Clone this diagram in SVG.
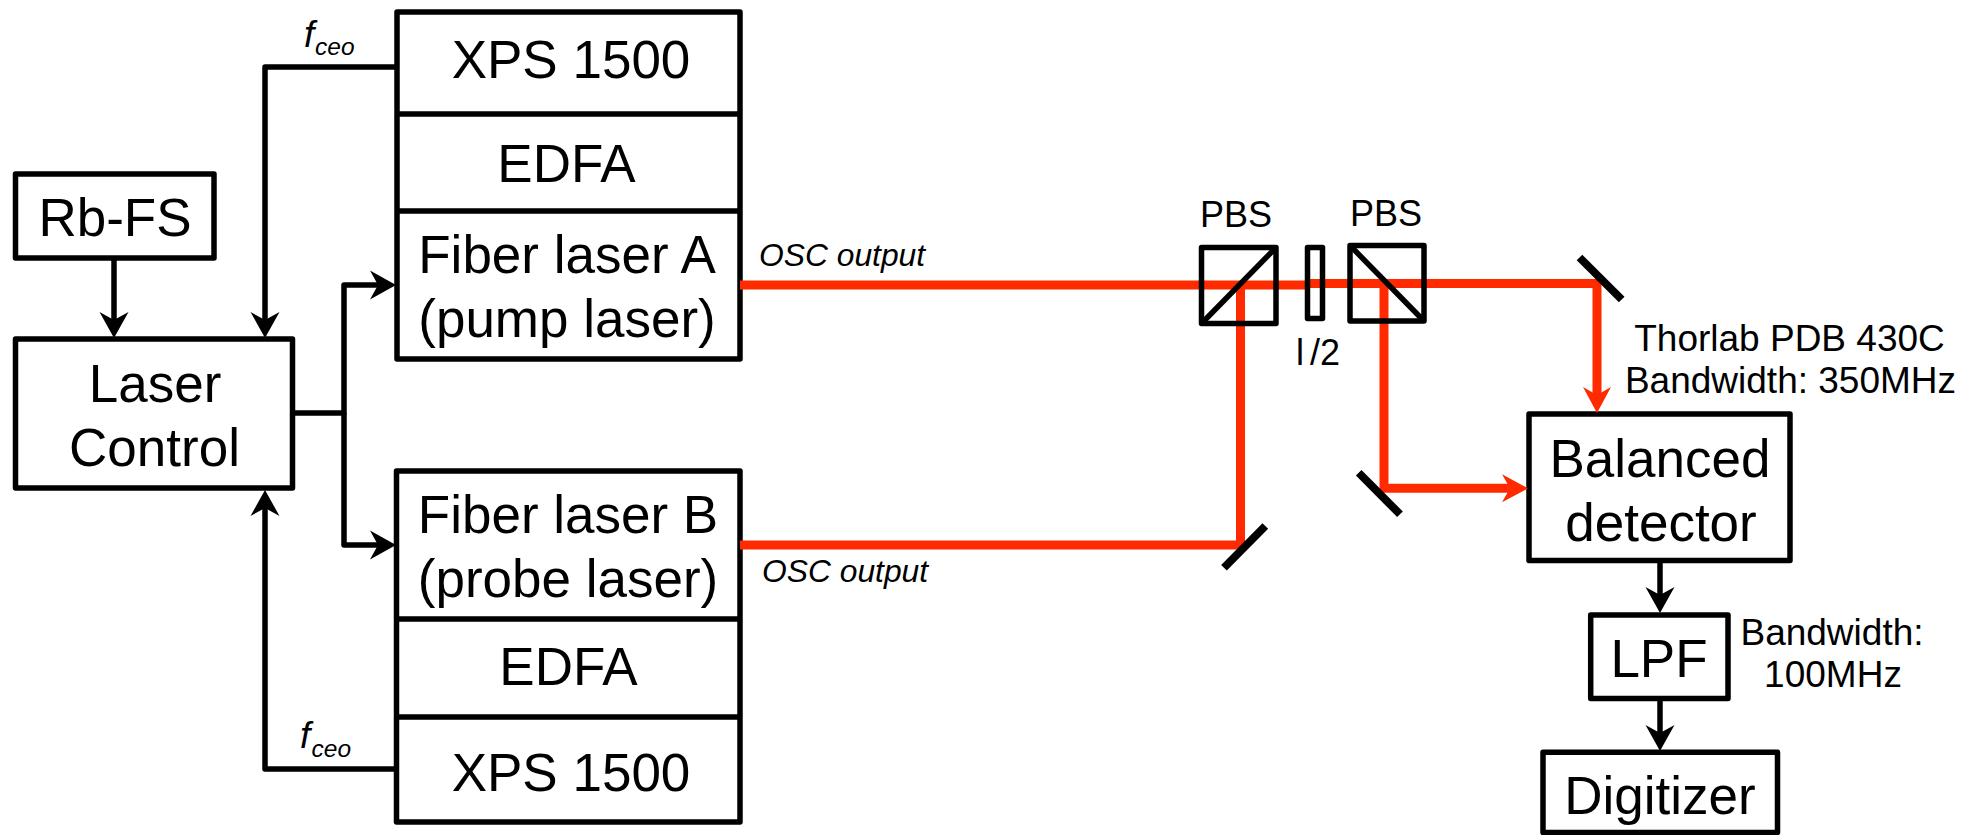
<svg xmlns="http://www.w3.org/2000/svg" width="1984" height="835" viewBox="0 0 1984 835">
<style>
text{font-family:"Liberation Sans",Arial,sans-serif;fill:#000}
.m{text-anchor:middle}
.t53{font-size:53px}
.t36{font-size:36px}
.t37{font-size:37px}
.osc{font-size:31.8px;font-style:italic}
.f{font-size:37px;font-style:italic}
.sub{font-size:24.5px;font-style:italic}
.box{fill:none;stroke:#000;stroke-width:5.500px;stroke-linejoin:round}
.thin{fill:none;stroke:#000;stroke-width:5.500px}
.k{fill:none;stroke:#000;stroke-width:5.500px;stroke-linejoin:round}
.r{fill:none;stroke:#ff2a00;stroke-width:9px;stroke-linejoin:miter}
.mir{stroke:#000;stroke-width:8px;fill:none}
</style>
<defs>
<marker id="ak" markerUnits="userSpaceOnUse" markerWidth="60" markerHeight="60" refX="30" refY="30" orient="auto" viewBox="0 0 60 60"><path d="M43 30L17 15.500L25 30L17 44.500Z" fill="#000"/></marker>
<marker id="ar" markerUnits="userSpaceOnUse" markerWidth="60" markerHeight="60" refX="30" refY="30" orient="auto" viewBox="0 0 60 60"><path d="M43 30L17 16L25 30L17 44Z" fill="#ff2a00"/></marker>
</defs>
<rect width="1984" height="835" fill="#fff"/>
<g id="rb-fs"><rect class="box" x="15.500" y="174" width="198.500" height="84"/><text class="t53 m" x="115" y="236">Rb-FS</text></g>
<g id="laser-control"><rect class="box" x="15.500" y="339" width="277" height="149"/><text class="t53 m" x="155" y="402">Laser</text><text class="t53 m" x="154.500" y="466">Control</text></g>
<g id="stack-a"><rect class="box" x="397" y="12" width="343" height="347"/><path class="thin" d="M397 114H740M397 211H740"/><text class="t53 m" x="571" y="78">XPS 1500</text><text class="t53 m" x="566.500" y="182">EDFA</text><text class="t53 m" x="567" y="273">Fiber laser A</text><text class="t53 m" x="567" y="337">(pump laser)</text></g>
<g id="stack-b"><rect class="box" x="396.500" y="471" width="343.500" height="351"/><path class="thin" d="M396.500 619H740M396.500 717H740"/><text class="t53 m" x="568" y="533">Fiber laser B</text><text class="t53 m" x="568" y="597">(probe laser)</text><text class="t53 m" x="568.500" y="685">EDFA</text><text class="t53 m" x="571" y="791">XPS 1500</text></g>
<g id="balanced-detector"><rect class="box" x="1529" y="414" width="261" height="146.500"/><text class="t53 m" x="1660" y="476.500">Balanced</text><text class="t53 m" x="1661" y="540.500">detector</text></g>
<g id="lpf"><rect class="box" x="1590.700" y="615" width="137.300" height="83.500"/><text class="t53 m" x="1659" y="677">LPF</text></g>
<g id="digitizer"><rect class="box" x="1543" y="752.200" width="234.500" height="80.300"/><text class="t53 m" x="1660" y="813.500">Digitizer</text></g>
<g id="connectors">
<path class="k" d="M114 258V325" marker-end="url(#ak)"/>
<path class="k" d="M395 67H265V325" marker-end="url(#ak)"/>
<path class="k" d="M395 769H265V503" marker-end="url(#ak)"/>
<path class="k" d="M293 413H344V285H383" marker-end="url(#ak)"/>
<path class="k" d="M344 413V545H383" marker-end="url(#ak)"/>
<path class="k" d="M1660 560V600" marker-end="url(#ak)"/>
<path class="k" d="M1660 698V738" marker-end="url(#ak)"/>
<path class="r" d="M740 285H1310"/>
<path class="r" d="M1310 283.500H1597V400" marker-end="url(#ar)"/>
<path class="r" d="M740 545H1240.500V284"/>
<path class="r" d="M1384 284V488.300H1515" marker-end="url(#ar)"/>
</g>
<g id="pbs-1"><rect class="box" x="1201.500" y="247.500" width="74.500" height="76"/><path class="thin" d="M1201.500 323.500L1276 247.500"/><text class="t36 m" x="1236" y="226.700">PBS</text></g>
<g id="waveplate"><rect class="box" x="1307.500" y="247.500" width="15" height="71"/><text class="t36" x="1296" y="365">l<tspan dx="6">/2</tspan></text></g>
<g id="pbs-2"><rect class="box" x="1350" y="245.500" width="74" height="75.500"/><path class="thin" d="M1350 245.500L1424 321"/><text class="t36 m" x="1386" y="225.700">PBS</text></g>
<g id="mirror-1"><path class="mir" d="M1579.500 257.500L1621.700 299.500"/></g>
<g id="mirror-2"><path class="mir" d="M1358.700 472.700L1400 514.300"/></g>
<g id="mirror-3"><path class="mir" d="M1265.300 526L1224 567.700"/></g>
<g id="labels">
<text class="f" x="304" y="47">f</text><text class="sub" x="315" y="55">ceo</text>
<text class="f" x="300" y="748">f</text><text class="sub" x="311.500" y="757">ceo</text>
<text class="osc" x="759" y="265.700">OSC output</text>
<text class="osc" x="762" y="581.700">OSC output</text>
<text class="t37 m" x="1789.500" y="351">Thorlab PDB 430C</text>
<text class="t37 m" x="1790.500" y="393">Bandwidth: 350MHz</text>
<text class="t37 m" x="1832" y="644.500">Bandwidth:</text>
<text class="t37 m" x="1833" y="686.500">100MHz</text>
</g>
</svg>
